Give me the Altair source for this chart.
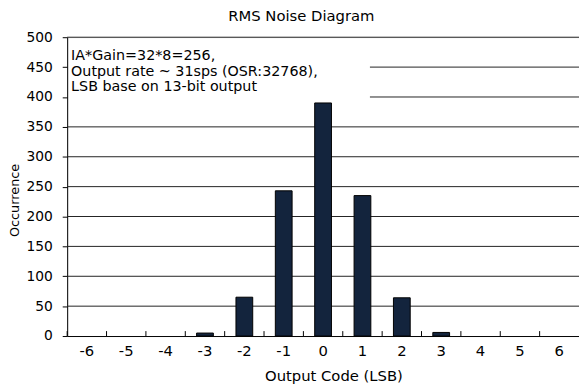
import altair as alt
import pandas as pd

codes = [-6, -5, -4, -3, -2, -1, 0, 1, 2, 3, 4, 5, 6]
occurrence = [0, 0, 0, 5, 65, 243, 390, 235, 64, 6, 0, 0, 0]
y_ticks = [0, 50, 100, 150, 200, 250, 300, 350, 400, 450, 500]
grid_full = [50, 100, 150, 200, 250, 300, 350, 500]
grid_partial = [400, 450]
note_lines = "IA*Gain=32*8=256,\nOutput rate ~ 31sps (OSR:32768),\nLSB base on 13-bit output"

W, H = 519, 303
FONT = "DejaVu Sans"

df = pd.DataFrame({"code": codes, "occ": occurrence})
xscale = alt.Scale(domain=codes, paddingInner=0, paddingOuter=0)
yscale = alt.Scale(domain=[0, 500])

yaxis = alt.Axis(title="Occurrence", values=y_ticks, labelOverlap=False,
                 grid=False, tickSize=5, tickColor="#000000", domainColor="#000000",
                 labelFontSize=14, labelPadding=10, titleFontSize=13, titleFontWeight="normal",
                 titlePadding=5, titleY=165, labelColor="#000000", titleColor="#000000",
                 labelFont=FONT, titleFont=FONT)
xaxis = alt.Axis(title="Output Code (LSB)", labelAngle=0, tickSize=0, domain=True,
                 domainColor="#000000", labelFontSize=15, labelPadding=8,
                 titleFontSize=15, titleFontWeight="normal", titlePadding=10, titleX=270,
                 labelColor="#000000", titleColor="#000000", labelFont=FONT, titleFont=FONT)

bars = alt.Chart(df).transform_filter("datum.occ > 0").mark_bar(
    size=17, color="#13243d", stroke="#000000", strokeWidth=1
).encode(
    x=alt.X("code:O", scale=xscale, sort=codes, axis=xaxis),
    y=alt.Y("occ:Q", scale=yscale, axis=yaxis),
)

gfull = alt.Chart(pd.DataFrame({"v": grid_full})).mark_rule(color="#222222", strokeWidth=1).encode(
    y=alt.Y("v:Q", scale=yscale, axis=yaxis), x=alt.value(0), x2=alt.value(W))
gpart = alt.Chart(pd.DataFrame({"v": grid_partial})).mark_rule(color="#222222", strokeWidth=1).encode(
    y=alt.Y("v:Q", scale=yscale, axis=yaxis), x=alt.value(307), x2=alt.value(W))

ticks = alt.Chart(df).mark_rule(color="#000000", strokeWidth=1).encode(
    x=alt.X("code:O", scale=xscale, sort=codes, bandPosition=0, axis=xaxis),
    y=alt.value(H - 5), y2=alt.value(H))

note = alt.Chart(pd.DataFrame({"t": [note_lines]})).mark_text(
    align="left", baseline="alphabetic", fontSize=14.5, font=FONT, color="#000000",
    lineBreak="\n", lineHeight=16
).encode(text="t:N", x=alt.value(4), y=alt.value(23))

chart = alt.layer(gfull, gpart, bars, ticks, note).properties(
    width=W, height=H,
    title=alt.TitleParams("RMS Noise Diagram", fontSize=15, fontWeight="normal", font=FONT,
                          color="#000000", anchor="middle", offset=6, dx=-22),
    autosize=alt.AutoSizeParams(type="none"),
    padding={"left": 60, "top": 27, "right": 0, "bottom": 46},
).configure_view(stroke=None).configure(background="white")

chart.save("out.html", embed_options={"renderer": "svg", "actions": False})
